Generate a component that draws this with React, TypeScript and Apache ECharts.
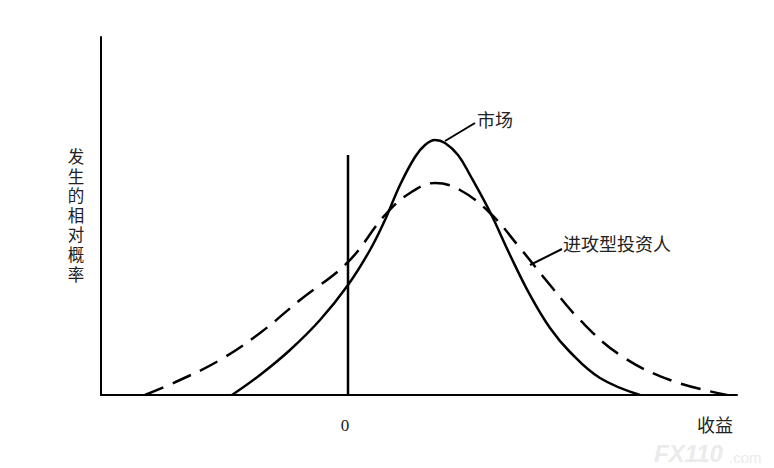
import React, { useEffect, useRef } from "react";
import * as echarts from "echarts";

// 收益 (x) in units, relative probability (y)
const marketX = [-11.6, -8.8, -5.8, -2.8, 0, 2.2, 3.7, 5.2, 6.7, 7.7, 8.7, 9.7, 11.0, 12.2, 14.2, 16.2, 18.2, 20.2, 22.2, 25.2, 29.2];
const marketY = [0, 20, 45, 75, 110, 145, 175, 210, 238, 250, 255, 252, 240, 220, 183, 140, 100, 67, 43, 17, 0];
const aggressiveX = [-20.3, -16.8, -12.8, -8.8, -4.8, 0, 3.7, 6.2, 8.7, 11.2, 14.2, 17.2, 20.2, 23.2, 27.2, 32.2, 37.9];
const aggressiveY = [0, 15, 35, 62, 95, 133, 180, 202, 212, 205, 182, 147, 110, 75, 40, 15, 0];
const zeroLineTop = 240;

const seriesNames = ["市场", "进攻型投资人"];
const xLabel = "收益";
const yLabel = "发生的相对概率";
const zeroLabel = "0";

const cjk = "'Noto Sans CJK SC', 'Noto Sans', sans-serif";

export default function App() {
  const ref = useRef<HTMLDivElement>(null);
  useEffect(() => {
    if (!ref.current) return;
    const chart = echarts.init(ref.current, undefined, { renderer: "svg" });
    const pair = (xs: number[], ys: number[]) => xs.map((x, i) => [x, ys[i]]);
    const yChars = yLabel.split("").map((ch, i) => ({
      type: "text",
      x: 76,
      y: 156 + i * 19.6,
      style: { text: ch, font: `16.5px ${cjk}`, fill: "#222", align: "center", verticalAlign: "middle" },
    }));
    chart.setOption({
      animation: false,
      backgroundColor: "#ffffff",
      grid: { left: 101, right: 37, top: 37, bottom: 73 },
      xAxis: {
        type: "value",
        min: -24.7,
        max: 38.9,
        axisLine: { show: true, onZero: false, lineStyle: { color: "#000", width: 2 } },
        axisTick: { show: false },
        axisLabel: { show: false },
        splitLine: { show: false },
      },
      yAxis: {
        type: "value",
        min: 0,
        max: 358,
        axisLine: { show: true, onZero: false, lineStyle: { color: "#000", width: 2 } },
        axisTick: { show: false },
        axisLabel: { show: false },
        splitLine: { show: false },
      },
      series: [
        {
          name: seriesNames[0],
          type: "line",
          data: pair(marketX, marketY),
          smooth: 0.4,
          symbol: "none",
          lineStyle: { color: "#000", width: 2.5 },
        },
        {
          name: seriesNames[1],
          type: "line",
          data: pair(aggressiveX, aggressiveY),
          smooth: 0.4,
          symbol: "none",
          lineStyle: { color: "#000", width: 2.5, type: [20, 10] },
        },
        {
          name: "zero",
          type: "line",
          data: [[0, 0], [0, zeroLineTop]],
          symbol: "none",
          lineStyle: { color: "#000", width: 2.5 },
        },
      ],
      graphic: [
        ...yChars,
        {
          type: "text",
          x: 345,
          y: 425,
          style: { text: zeroLabel, font: "17px 'Liberation Serif', serif", fill: "#222", align: "center", verticalAlign: "middle" },
        },
        {
          type: "text",
          x: 715,
          y: 424,
          style: { text: xLabel, font: `18px ${cjk}`, fill: "#222", align: "center", verticalAlign: "middle" },
        },
        {
          type: "text",
          x: 477,
          y: 119,
          style: { text: seriesNames[0], font: `18px ${cjk}`, fill: "#222", verticalAlign: "middle" },
        },
        {
          type: "line",
          shape: { x1: 445, y1: 141, x2: 475, y2: 123 },
          style: { stroke: "#000", lineWidth: 2 },
        },
        {
          type: "text",
          x: 563,
          y: 243,
          style: { text: seriesNames[1], font: `18px ${cjk}`, fill: "#222", verticalAlign: "middle" },
        },
        {
          type: "line",
          shape: { x1: 530, y1: 265, x2: 562, y2: 249 },
          style: { stroke: "#000", lineWidth: 2 },
        },
        {
          type: "text",
          x: 654,
          y: 453,
          style: { text: "FX110", font: "bold italic 24px 'Liberation Sans', sans-serif", fill: "#ebebeb", verticalAlign: "middle" },
        },
        {
          type: "text",
          x: 729,
          y: 457,
          style: { text: ".com", font: "15px 'Liberation Sans', sans-serif", fill: "#ebebeb", verticalAlign: "middle" },
        },
      ],
    });
    return () => chart.dispose();
  }, []);
  return <div ref={ref} style={{ position: "fixed", left: 0, top: 0, width: 774, height: 468 }} />;
}
